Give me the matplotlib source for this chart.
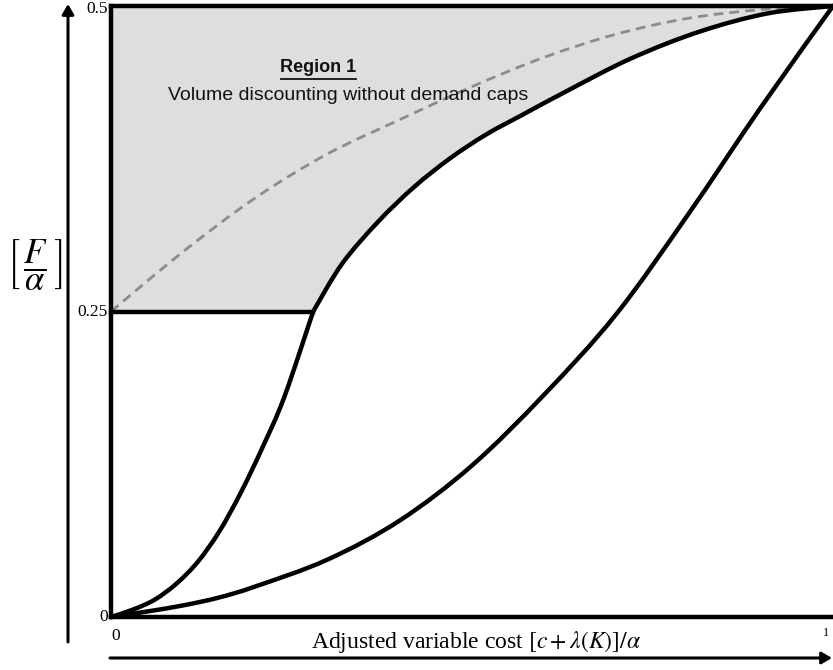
import matplotlib
matplotlib.use("Agg")
import matplotlib.pyplot as plt
from matplotlib.path import Path
from matplotlib.patches import PathPatch, FancyArrowPatch
import numpy as np

plt.rcParams['mathtext.fontset'] = 'stix'

# Data
steep_x = [0.0, 0.03, 0.06, 0.09, 0.12, 0.15, 0.18, 0.21, 0.24, 0.28]
steep_y = [0.0, 0.006, 0.014, 0.027, 0.045, 0.070, 0.102, 0.139, 0.180, 0.250]

upper_x = [0.28, 0.32, 0.37, 0.42, 0.47, 0.52, 0.57, 0.63, 0.72, 0.815, 0.91, 1.0]
upper_y = [0.25, 0.289, 0.3235, 0.352, 0.3755, 0.395, 0.411, 0.430, 0.457, 0.479, 0.494, 0.5]

dashed_x = [0.0, 0.1, 0.2, 0.3, 0.4, 0.5, 0.6, 0.7, 0.8, 0.9, 1.0]
dashed_y = [0.25, 0.299, 0.343, 0.379, 0.407, 0.434, 0.458, 0.477, 0.490, 0.497, 0.5]

lower_x = [0.0, 0.05, 0.1, 0.15, 0.2, 0.3, 0.4, 0.5, 0.6, 0.7, 0.8, 0.9, 1.0]
lower_y = [0.0, 0.0045, 0.0095, 0.016, 0.025, 0.047, 0.079, 0.124, 0.182, 0.248, 0.330, 0.417, 0.5]

floor_y = 0.25
y_ticks = [0, 0.25, 0.5]
y_tick_labels = ['0', '0.25', '0.5']
x_ticks = [0, 1]
x_tick_labels = ['0', '1']

region_title = 'Region 1'
region_text = 'Volume discounting without demand caps'


def bezier_through(xs, ys):
    """Vertices/codes of a smooth (Catmull-Rom style) Bezier path through the points."""
    P = np.column_stack([xs, ys]).astype(float)
    n = len(P)
    verts = [P[0]]
    codes = [Path.MOVETO]
    for i in range(n - 1):
        p0 = P[i - 1] if i > 0 else P[i]
        p1, p2 = P[i], P[i + 1]
        p3 = P[i + 2] if i + 2 < n else P[i + 1]
        c1 = p1 + (p2 - p0) / 6.0
        c2 = p2 - (p3 - p1) / 6.0
        verts += [c1, c2, p2]
        codes += [Path.CURVE4] * 3
    return verts, codes


fig = plt.figure(figsize=(8.33, 6.70), dpi=100)
ax = fig.add_axes([111/833, 53/670, 722/833, 611/670])
ax.set_xlim(0, 1)
ax.set_ylim(0, 0.5)
ax.axis('off')

# shaded region
uv, uc = bezier_through(upper_x, upper_y)
fill_verts = [(0, 0.5), (0, floor_y)] + [tuple(v) for v in uv] + [(0, 0.5)]
fill_codes = [Path.MOVETO, Path.LINETO] + [Path.LINETO] + uc[1:] + [Path.CLOSEPOLY]
ax.add_patch(PathPatch(Path(fill_verts, fill_codes), facecolor='#dedede', edgecolor='none', zorder=1))

lw = 3.2


def draw_curve(xs, ys, **kw):
    v, c = bezier_through(xs, ys)
    ax.add_patch(PathPatch(Path(v, c), facecolor='none', clip_on=False, **kw))


draw_curve(steep_x, steep_y, edgecolor='black', lw=lw, zorder=4, capstyle='round')
draw_curve(upper_x, upper_y, edgecolor='black', lw=lw, zorder=4, capstyle='round')
draw_curve(lower_x, lower_y, edgecolor='black', lw=lw, zorder=4, capstyle='round')
draw_curve(dashed_x, dashed_y, edgecolor='#8c8c8c', lw=2.0, ls=(0, (3.5, 2.2)), zorder=3)

# frame lines
ax.plot([0, 0], [0, 0.5], color='black', lw=lw, zorder=5, clip_on=False)
ax.plot([0, 1], [0.5, 0.5], color='black', lw=lw, zorder=5, clip_on=False)
ax.plot([0, 1], [0, 0], color='black', lw=lw, zorder=5, clip_on=False)
ax.plot([0, steep_x[-1]], [floor_y, floor_y], color='black', lw=lw, zorder=5, clip_on=False)

serif = ['Liberation Serif', 'DejaVu Serif']
for v, t in zip(y_ticks, y_tick_labels):
    ax.annotate(t, xy=(0, v), xytext=(-3, -3 if v == 0.5 else 0), textcoords='offset pixels',
                ha='right', va='center', fontsize=12.5, family=serif)
ax.annotate(x_tick_labels[0], xy=(0, 0), xytext=(5, -11), textcoords='offset pixels',
            ha='center', va='top', fontsize=12.5, family=serif)
ax.annotate(x_tick_labels[1], xy=(1, 0), xytext=(-7, -10), textcoords='offset pixels',
            ha='center', va='top', fontsize=9, family=serif)

# region text
sans = ['Liberation Sans Narrow', 'Liberation Sans', 'DejaVu Sans']
ax.text((318-111)/722, (617-67)/611*0.5, region_title, ha='center', va='center',
        fontsize=13, fontweight='bold', family=sans, color='#111111')
ax.plot([(281-111)/722, (356-111)/722], [(617-79)/611*0.5]*2, color='#111111', lw=1.3, clip_on=False)
ax.text((168-111)/722, (617-96)/611*0.5, region_text, ha='left', va='center',
        fontsize=14, family=sans, color='#111111')

# axis labels
fig.text(476/833, 1-642/670, r'Adjusted variable cost $[c+\lambda(K)]/\alpha$',
         ha='center', va='center', fontsize=17, family=serif)
fig.text(35/833, 1-265/670, r'$\left[\,\dfrac{F}{\alpha}\,\right]$',
         ha='center', va='center', fontsize=25)

# arrows
fig.add_artist(FancyArrowPatch(
    (68/833, 1-642/670), (68/833, 1-4/670), transform=fig.transFigure,
    arrowstyle='-|>,head_length=6,head_width=3.5', color='black', lw=2.2, shrinkA=0, shrinkB=0))
fig.add_artist(FancyArrowPatch(
    (110/833, 1-658/670), (832/833, 1-658/670), transform=fig.transFigure,
    arrowstyle='-|>,head_length=6,head_width=3.5', color='black', lw=2.2, shrinkA=0, shrinkB=0))

fig.savefig('out.png', dpi=100)
